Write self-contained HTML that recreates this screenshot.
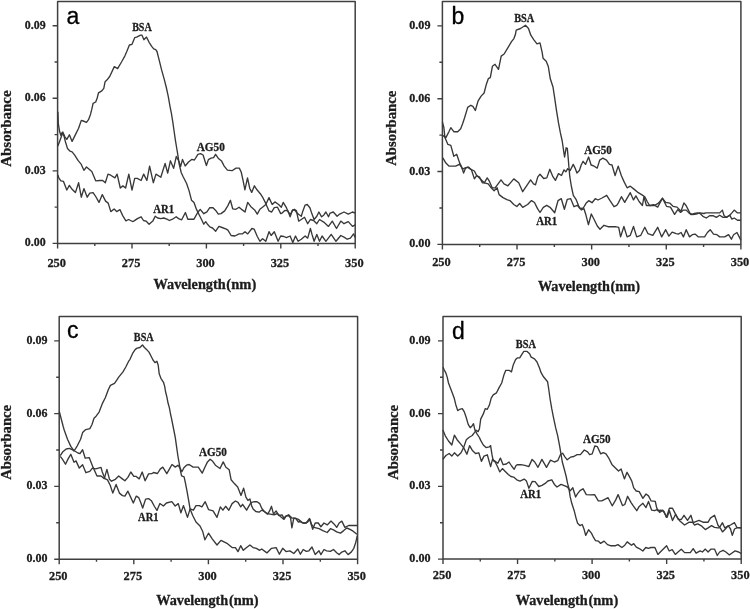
<!DOCTYPE html>
<html><head><meta charset="utf-8"><style>
html,body{margin:0;padding:0;background:#fff;width:750px;height:609px;overflow:hidden}
svg{display:block;will-change:transform}
text{font-family:"Liberation Serif",serif;font-weight:bold;fill:#1c1c1c;stroke:#1c1c1c;stroke-width:0.3px}
.tk{font-size:13.4px}
.ti{font-size:14.5px}
.cl{font-size:12.0px}
.pl{font-family:"Liberation Sans",sans-serif;font-weight:normal;font-size:23px;fill:#000;stroke:#000;stroke-width:0.3px}
.cv{fill:none;stroke:#383838;stroke-width:1.35;stroke-linejoin:round}
</style></head><body>
<svg width="750" height="609" viewBox="0 0 750 609">
<rect x="57.6" y="1.6" width="297.6" height="241.8" fill="none" stroke="#404040" stroke-width="1.5" stroke-linejoin="round"/>
<path d="M57.6 243.4v5 M94.8 243.4v2.5 M132 243.4v5 M169.2 243.4v2.5 M206.4 243.4v5 M243.6 243.4v2.5 M280.8 243.4v5 M318 243.4v2.5 M355.2 243.4v5 M57.6 243.4h-5 M57.6 207.13h-3 M57.6 170.86h-5 M57.6 134.59h-3 M57.6 98.32h-5 M57.6 62.05h-3 M57.6 25.78h-5" stroke="#404040" stroke-width="1.4" fill="none"/>
<text x="24.85" y="246.4" class="tk" textLength="20.81" lengthAdjust="spacingAndGlyphs">0.00</text>
<text x="24.85" y="173.86" class="tk" textLength="20.76" lengthAdjust="spacingAndGlyphs">0.03</text>
<text x="24.85" y="101.32" class="tk" textLength="20.7" lengthAdjust="spacingAndGlyphs">0.06</text>
<text x="24.85" y="28.78" class="tk" textLength="20.78" lengthAdjust="spacingAndGlyphs">0.09</text>
<text x="47.38" y="266.6" class="tk" textLength="18.59" lengthAdjust="spacingAndGlyphs">250</text>
<text x="121.78" y="266.6" class="tk" textLength="18.57" lengthAdjust="spacingAndGlyphs">275</text>
<text x="196.24" y="266.6" class="tk" textLength="18.54" lengthAdjust="spacingAndGlyphs">300</text>
<text x="270.64" y="266.6" class="tk" textLength="18.52" lengthAdjust="spacingAndGlyphs">325</text>
<text x="345.04" y="266.6" class="tk" textLength="18.54" lengthAdjust="spacingAndGlyphs">350</text>
<text x="153.5" y="289.1" class="ti" textLength="72.21" lengthAdjust="spacingAndGlyphs">Wavelength</text>
<text x="226.36" y="289.1" class="ti" textLength="29.88" lengthAdjust="spacingAndGlyphs">(nm)</text>
<text transform="translate(11 166.75) rotate(-90)" x="0" y="0" class="ti" textLength="76.33" lengthAdjust="spacingAndGlyphs">Absorbance</text>
<text x="66.6" y="23.6" class="pl">a</text>
<path d="M57.9 146 60.3 139.4 62.9 132.2 64.9 136.8 66.8 139.4 69.4 134.8 72.1 141.4 74.7 136.1 78.6 128.2 81.3 120.4 83.2 121 86.5 122.3 88.5 119.7 90.5 114.4 91.8 109.2 93.1 103.3 95.7 102 97.2 98 98.5 92.9 101.8 90.9 103.8 88.3 105.1 81.7 107.1 79.8 109.7 76.5 114.3 66.6 117.6 68.6 121.5 62 124.8 56.1 126.8 51.5 129.4 45 132 44.3 134.7 37.7 136.6 37.1 140.6 35.1 141.9 35.1 143.9 39.7 146.5 37.1 149.1 42.3 151.7 46.3 153.7 48.9 155.7 49.6 157 51.5 159 59.4 161.6 69.9 164.2 79.1 166.2 87 168.2 96.2 170.1 106.8 171.4 113.4 172.7 121.3 174 130.5 175.3 139.7 176.6 147.5 177.9 155.4 179.3 164.6 181.2 172.5 182.9 176.2 186.6 183.5 189.1 190.9 191.5 200.2 194 202.6 196.5 209.4 198.9 214.3 201.4 219.2 203.8 224.2 205.7 221.7 207.1 223.7 209.8 226.9 212.5 228 215.7 231.2 218.9 226.4 222.1 227.5 226.3 229.1 227.9 230.1 231.1 235.5 234.9 236 239.1 233.9 242.3 233.9 245 231.7 247.7 233.9 251.9 228.5 254.1 229.1 257.3 236.5 259.9 241.3 262.6 238.7 265.8 241.3 269 231.7 271.1 235.5 274.3 231.7 278.1 241.3 280.7 236 283.9 236.5 286.4 237.6 290.1 236 292.8 242.4 295.5 236 298.1 241.3 301.3 239.2 305.1 236 307.7 238.1 310.4 228.5 312 234.4 314.1 241.3 316.8 234.4 319.5 241.3 322.1 236 325.9 241.3 331.2 234.4 336 241.3 340.8 235.5 344 237.1 347.2 239.2 350.4 238.1 353.6 233.9 355.2 237.6" class="cv"/>
<path d="M57.9 111.8 58.3 123.6 59.6 131.5 60.9 135.5 62.2 132.2 64.2 136.8 65.5 142 67.5 148.6 70.1 151.2 72.1 151.9 74.7 155.2 78 160.4 81.3 164.4 83.9 170.3 86.5 167 91.8 171.6 95.7 180.8 100 180.5 102.7 180.5 105.3 182.7 108 174.1 110.7 175.2 114.9 177.9 117.1 174.1 120.3 188 122.9 185.9 125.6 188 128.8 174.1 132 190.1 134.7 178.4 137.3 178.4 141.1 180.5 143.7 174.1 146.9 180.5 149.6 166.1 153.3 182.7 156 174.1 160.8 177.3 165.1 163.5 167.7 173.1 170.4 160.8 173.6 168.3 176.3 156.5 178.9 161.3 180.6 166.6 182.5 159.4 185.2 166 188.5 162 191.7 159.4 194.4 160 197.9 154.3 200.5 153.6 203.1 155 205.1 161.5 206.4 165.5 208.4 159.6 211 158.2 213.6 157.6 215.6 154.3 218.2 158.2 221.5 160.9 224.2 166.1 227.4 170.1 232 170.7 236 168.1 239.3 168.1 241.2 172 243.2 181.2 244.9 189.8 247.5 177.9 249.8 188.5 251.7 192.4 254.4 185.8 257 189.8 260.3 193.7 262.9 197.7 265.5 202.9 269 210.9 271.7 212 274.3 207.7 277.5 207.2 280.7 213.6 282.1 213.1 284.8 210.4 288 210.9 290.1 216.8 292.3 210.4 294.4 209.3 296.5 210.9 297.6 216.3 298.7 221.1 301.3 219.5 304.5 217.3 307.7 223.7 310.4 219.5 313.6 220.5 316.8 223.7 319.5 219.5 323.7 222.1 328.5 226.4 332.3 221.1 336.5 228.5 340.8 221.1 344 223.7 348.3 221.6 352.5 226.4 355.2 224.8" class="cv"/>
<path d="M57.9 174.9 58.9 178.1 60.9 180.8 63.5 181.4 66.8 190 69.4 185.4 72.1 189.3 75.4 192.6 78.6 182.7 81.3 197.2 83.9 188.6 87.2 197.2 89.8 193.2 93.1 192.6 95.7 196.5 99 202.4 102.3 194.6 105.6 201.1 108.2 203.1 110.8 211.6 114.1 209 116.7 211.6 120 209.7 122.7 215.6 125.9 220.8 128.6 219.5 132.5 221.5 133.7 221.1 137.4 218.6 141.1 216.8 143.5 220.5 146 221.1 149.1 224.2 152.8 221.1 155.2 216.2 157.7 218 160.8 218.6 163.8 218 166.9 219.2 169.4 220.5 172.5 219.2 176.2 216.8 178.6 218.6 181.7 219.8 185.4 212.5 187.8 219.2 190.9 219.2 194 219.2 197.7 212.5 200.2 209.4 203.8 213.7 206.9 211.8 209.8 207.7 213 207.7 215.7 210.4 218.3 214.1 221 213.6 224.7 210.9 227.9 205.6 230.4 200.3 232.7 208.8 235.9 209.3 239.1 207.2 242.3 209.9 245 212 247.7 202.4 250.9 206.7 254.6 209.9 257.3 214.1 259.9 209.3 263.1 206.7 265.8 204.5 269 197.6 272.2 204.5 274.9 201.9 278.6 204.5 281.3 207.2 283.2 202.4 286.4 207.7 288.5 212.5 290.7 214.1 292.8 209.9 294.9 210.4 297.1 213.1 299.2 214.7 301.3 216.3 302.9 210.9 305.1 205.1 307.2 204.5 309.9 207.7 312 214.1 314.1 219.5 316.8 216.3 318.9 212 321.6 216.8 323.7 215.2 325.9 212 328.5 216.8 330.1 213.1 333.3 212 337.1 216.3 339.7 214.1 344 212 348.3 214.1 352.5 212 355.2 213.1" class="cv"/>
<text x="132.13" y="30.8" class="cl" textLength="19.64" lengthAdjust="spacingAndGlyphs">BSA</text>
<text x="196.69" y="150.6" class="cl" textLength="28.14" lengthAdjust="spacingAndGlyphs">AG50</text>
<text x="153.29" y="213.1" class="cl" textLength="20.96" lengthAdjust="spacingAndGlyphs">AR1</text>
<rect x="442.4" y="1.6" width="298.5" height="242.8" fill="none" stroke="#404040" stroke-width="1.5" stroke-linejoin="round"/>
<path d="M442.4 244.4v5 M479.71 244.4v2.5 M517.02 244.4v5 M554.34 244.4v2.5 M591.65 244.4v5 M628.96 244.4v2.5 M666.27 244.4v5 M703.59 244.4v2.5 M740.9 244.4v5 M442.4 244.4h-5 M442.4 207.98h-3 M442.4 171.56h-5 M442.4 135.14h-3 M442.4 98.72h-5 M442.4 62.3h-3 M442.4 25.88h-5" stroke="#404040" stroke-width="1.4" fill="none"/>
<text x="409.24" y="247.4" class="tk" textLength="21.22" lengthAdjust="spacingAndGlyphs">0.00</text>
<text x="409.24" y="174.56" class="tk" textLength="21.17" lengthAdjust="spacingAndGlyphs">0.03</text>
<text x="409.24" y="101.72" class="tk" textLength="21.11" lengthAdjust="spacingAndGlyphs">0.06</text>
<text x="409.24" y="28.88" class="tk" textLength="21.2" lengthAdjust="spacingAndGlyphs">0.09</text>
<text x="432.18" y="266.4" class="tk" textLength="18.59" lengthAdjust="spacingAndGlyphs">250</text>
<text x="506.81" y="266.4" class="tk" textLength="18.57" lengthAdjust="spacingAndGlyphs">275</text>
<text x="581.49" y="266.4" class="tk" textLength="18.54" lengthAdjust="spacingAndGlyphs">300</text>
<text x="656.11" y="266.4" class="tk" textLength="18.52" lengthAdjust="spacingAndGlyphs">325</text>
<text x="730.74" y="266.4" class="tk" textLength="18.54" lengthAdjust="spacingAndGlyphs">350</text>
<text x="537.9" y="290.7" class="ti" textLength="71.91" lengthAdjust="spacingAndGlyphs">Wavelength</text>
<text x="610.47" y="290.7" class="ti" textLength="29.67" lengthAdjust="spacingAndGlyphs">(nm)</text>
<text transform="translate(395.5 165.84) rotate(-90)" x="0" y="0" class="ti" textLength="75.22" lengthAdjust="spacingAndGlyphs">Absorbance</text>
<text x="451.6" y="24.4" class="pl">b</text>
<path d="M442.6 136 443 135.6 445.9 137.6 448.9 131.7 450.8 127.7 453.8 131.7 457.7 131.7 460.7 128.7 462.6 123.8 464.6 117.7 467.7 107.4 470.8 105.3 472.9 106.4 475.3 110.5 478 101.2 481.1 96.1 484.1 93 486.2 84.8 488.3 78.7 490.3 77.6 492.4 66.3 495 64.3 498.5 69.4 501.2 56.1 504.1 54 507.8 47.9 511.5 41.7 513.9 38.6 515.4 34.6 516.2 30.1 520.5 28.5 525.5 25.3 528.5 28.5 530.8 35.2 533.9 39.8 537 43.9 540 42.9 542.1 52.1 543.1 58.3 546.2 61.3 548.3 66.5 550.3 78.8 553 87 554.4 96.2 556.5 110.6 558.5 122.9 560.3 132.4 562.2 141 564 153.3 564.6 157 566.1 147.8 567.3 148.4 568.1 157 568.9 166.8 569.8 176.7 571.4 186.5 573.3 195.3 576 199.3 578.7 206 581.3 210 584 208.7 586 215.3 588.4 224.7 591.3 214 594 219.3 597.3 226 600 229.3 604 225.3 608 226.7 615.3 226.7 618.7 227.3 620.6 236.9 623.9 226.5 627.1 236.9 630.3 235.3 633.5 226.5 636.7 236.9 640.8 235.3 644.8 227.3 648 233.7 652.8 235.3 657.7 227.3 661.7 236.9 665.7 229.7 668.9 236.1 672.1 232.1 676.2 233.7 678.3 234.1 681.1 232.5 683.4 236.9 686.2 229.7 689.5 236.9 692.3 234.7 695.1 234.1 698.4 236.9 704.6 236.9 707.4 232.5 710.2 229.7 713.5 234.1 716.9 234.7 719.7 236.9 724.7 236.9 728.6 234.7 731.4 239.2 733.6 234.7 737 232.5 739.2 236.9 740.9 240.3" class="cv"/>
<path d="M442.4 121.8 443.9 127.7 444.9 137.6 447.9 144.4 450.8 145.4 453.8 156.3 456.7 154.3 459.7 163.1 461.7 167.1 463.6 173 465.6 168.1 468.5 167.1 471.5 170 474.4 178.9 476.4 175.9 479.4 176.9 482.3 182.8 484.3 182.8 487.2 177.9 489.2 180.9 492.2 187.8 495.1 187.8 498.1 183.8 501 179.9 504 183.8 507.9 185.8 513.8 178.9 518.7 182.8 522.7 191.7 526.6 185.8 530.6 179.9 533.5 183.8 535.5 184.8 537.8 176.9 540 174.2 543.7 178.5 546.8 177.9 549.8 169.3 552.9 176.7 555.4 180.4 558.5 173.6 561.5 175.5 564 169.9 565.8 171.8 567.7 168.7 570.2 170.5 573.2 164.4 575.1 168.1 576.9 173 579.4 170.5 581.2 165 583.1 161.3 585.5 164.4 588.6 157 591.1 165 594.2 166.2 597.2 168.1 599.7 160.1 602.8 158.2 606.5 160.1 609.5 164.4 612 165 615.1 175.5 618.2 166.1 621.4 175.8 623.9 181.4 627.1 187.8 630.3 186.2 634.3 189.4 638.3 192.7 642.4 195.1 644.8 196.7 647.2 201.5 649.6 205.5 654.4 205.5 658.5 203.1 662.5 198.3 665.7 202.3 669.7 203.1 673 206.3 677 207.1 681 211.2 683.9 202.9 686.2 205.7 688.4 210.1 690.1 213.5 692.9 214.6 696.2 214.1 699.6 212.9 704 213.5 705.7 212.9 710.7 212.9 719.7 212.9 722.4 210.1 724.1 215.7 726.4 217.4 729.7 215.2 731.9 219.1 734.2 218 737.5 220.2 740.9 220.2" class="cv"/>
<path d="M442.6 158 443 158.2 445.9 163.1 448.9 166.1 455.7 166.1 459.7 164.1 462.6 169.1 464.6 168.1 467.6 167.1 470.5 169.1 474.4 171 476.4 175 480.4 178.9 484.3 182.8 488.2 183.8 491.2 187.8 494.1 190.7 497.1 187.8 499.1 194.6 503 197.6 506.9 199.6 509.9 200.6 513.8 204.5 516.8 206.5 519.7 203.5 522.7 207.4 527.6 204.5 531.5 200.6 534.5 202.5 537.4 208.4 540 212.5 543.3 207.3 546.7 205.3 550 207.3 554.7 212.7 558 200.7 561.3 198.7 564.4 209.3 567.3 199.3 570.7 198.7 574 206.7 577.3 205.3 580 208.7 583.3 208 586 203.3 588.7 200.7 592 202.7 595.3 198.7 598 200 602 198 606.7 195.3 610 200.7 614 206.7 616.7 205.3 618.2 203.1 621.4 196.7 624.7 202.3 630.3 192.7 633.5 199.9 635.9 195.9 639.1 201.5 642.4 205.5 644 196.7 646.4 205.5 650.4 205.5 653.6 204.7 657.7 207.1 662.5 198.3 666.5 206.3 670.5 207.1 674.6 214.4 677.8 209.6 680.6 212.4 683.4 210.1 686.2 210.1 688.4 212.4 691.2 214.6 694.5 213.5 697.3 212.9 700.1 213.5 702.9 216.3 706.3 218 709.6 215.7 713 215.7 716.3 217.4 719.7 215.2 723 217.4 726.4 217.4 729.7 215.2 731.9 212.9 734.2 210.1 737.5 212.9 740.9 212.9" class="cv"/>
<text x="514.23" y="21.9" class="cl" textLength="20.05" lengthAdjust="spacingAndGlyphs">BSA</text>
<text x="584.19" y="154.3" class="cl" textLength="27.63" lengthAdjust="spacingAndGlyphs">AG50</text>
<text x="536.29" y="224.5" class="cl" textLength="20.96" lengthAdjust="spacingAndGlyphs">AR1</text>
<rect x="59.2" y="316.6" width="298.4" height="242.6" fill="none" stroke="#404040" stroke-width="1.5" stroke-linejoin="round"/>
<path d="M59.2 559.2v5 M96.5 559.2v2.5 M133.8 559.2v5 M171.1 559.2v2.5 M208.4 559.2v5 M245.7 559.2v2.5 M283 559.2v5 M320.3 559.2v2.5 M357.6 559.2v5 M59.2 559.2h-5 M59.2 522.81h-3 M59.2 486.42h-5 M59.2 450.03h-3 M59.2 413.64h-5 M59.2 377.25h-3 M59.2 340.86h-5" stroke="#404040" stroke-width="1.4" fill="none"/>
<text x="26.54" y="562.2" class="tk" textLength="21.01" lengthAdjust="spacingAndGlyphs">0.00</text>
<text x="26.54" y="489.42" class="tk" textLength="20.97" lengthAdjust="spacingAndGlyphs">0.03</text>
<text x="26.55" y="416.64" class="tk" textLength="20.9" lengthAdjust="spacingAndGlyphs">0.06</text>
<text x="26.54" y="343.86" class="tk" textLength="20.99" lengthAdjust="spacingAndGlyphs">0.09</text>
<text x="48.98" y="579.6" class="tk" textLength="18.59" lengthAdjust="spacingAndGlyphs">250</text>
<text x="123.58" y="579.6" class="tk" textLength="18.57" lengthAdjust="spacingAndGlyphs">275</text>
<text x="198.24" y="579.6" class="tk" textLength="18.54" lengthAdjust="spacingAndGlyphs">300</text>
<text x="272.84" y="579.6" class="tk" textLength="18.52" lengthAdjust="spacingAndGlyphs">325</text>
<text x="347.44" y="579.6" class="tk" textLength="18.54" lengthAdjust="spacingAndGlyphs">350</text>
<text x="156.2" y="605" class="ti" textLength="72.11" lengthAdjust="spacingAndGlyphs">Wavelength</text>
<text x="228.97" y="605" class="ti" textLength="29.67" lengthAdjust="spacingAndGlyphs">(nm)</text>
<text transform="translate(11.3 479.84) rotate(-90)" x="0" y="0" class="ti" textLength="74.92" lengthAdjust="spacingAndGlyphs">Absorbance</text>
<text x="66.9" y="338.2" class="pl">c</text>
<path d="M59.3 411.5 63.2 426.5 64.2 430 67.5 439.2 70.8 446.4 74 451 77.3 445.8 80.6 439.2 82.6 432.6 85.2 430 85.8 429.6 89.9 428.6 92 424.5 94 418.3 96.1 416.2 99.1 412.1 102.2 403.9 105.3 397.8 108.4 389.5 110.4 385.4 114.5 383.4 116.6 380.3 118.7 377.2 122.8 372.1 125.8 367 128.9 360.8 130 359.3 132.6 353.4 135.3 349.4 137.2 348.1 139.9 347.5 142.5 344.9 144.4 347.5 147.1 350.1 149 352.1 151 356 153 360 155 362.6 156.9 361.3 158.2 365.2 159.2 373.8 160.9 378.3 163.5 382.3 164.8 386.9 165.5 391.5 166.8 396.7 168.1 403.3 169.4 407.9 170.7 415 171.4 417.9 172.7 424.5 174 431 175.3 437.6 176.6 446.8 177.9 456 179.3 463.9 180.6 471.7 181.6 475.9 184.1 476.9 185.6 483.8 187.1 491.7 188.5 499.6 190.1 508.9 192.7 515.5 196 522 200 526 202.6 531.2 204.9 539.8 208.5 533.2 212.4 539.1 217 545 221 540.4 227.5 543.7 232.1 547.6 235.4 547.6 238 551.6 240.7 545.7 243.3 550.3 246.6 547.6 249.9 545 253.1 547.6 256.4 548.3 259.7 550.3 261.7 549 266.9 552.9 271.5 548.3 276.1 547.6 279.4 554.2 282.7 548.3 286 551.6 289.9 550.9 293.8 553.5 297.8 549 300.4 554.2 303.2 549.5 306.3 551.4 308.9 550.8 312 547 315.2 554.6 319 550.8 320.9 554.6 324 549.5 326.6 550.8 330.4 551.4 333.5 549.5 336.7 552.7 339.2 554.6 341.8 552.1 344.9 550.8 348.1 554.6 351.2 552.1 353.8 548.3 355.7 542.6 357.3 535.6" class="cv"/>
<path d="M60.3 455.6 62.9 451.7 66.2 449 69.4 448.4 72.1 449.7 74.7 451 78 453 80 453.6 82.6 449.7 85.2 458.2 89.2 457.6 93.1 467.4 97 476 101 476 104.3 478.6 106.9 469.4 109.5 479.3 111.5 481.2 115.4 479.3 118.7 476 122 478.6 124.9 480.8 127.9 477.4 130.8 472 133.8 476.4 135.9 476.3 139.2 478.9 142.2 472 145.1 480.8 148.6 473.9 151.7 473.7 153.5 472.5 157.5 473.5 160.2 469.1 162.8 467.1 166.8 473.7 169.4 469.1 172 464.5 175.3 467.1 177.9 465.2 179.9 467.8 181.9 471.7 183.9 467.8 186.5 465.2 189.1 464.5 193.1 467.1 198.3 467.1 202.2 473.1 204.9 467.2 207.5 461.9 210.1 459.3 212.7 461.3 215.4 465.2 220 468.5 223.2 461.9 225.9 467.2 229.2 469.8 231.1 479.7 234.4 483.6 237.7 486.9 241 495.4 243.6 488.2 245.9 497.1 247.9 500.4 249.9 499 251.8 506.3 253.1 508.9 255.8 511.5 259 512.2 261.7 510.2 264.3 511.5 267.6 514.1 269.6 510.9 271.5 506.3 273.5 514.1 276.1 510.9 278.7 515.5 282 514.8 284 518.1 286 516.1 288.6 515.5 290.6 518.1 291.9 527.9 293.8 518.1 295.8 518.7 298.4 522 300 521.7 302.5 523 306.3 523 309.5 518.5 310.8 523 312.7 529.3 315.2 523 318.3 523 320.9 526.8 324 523 327.2 524.9 331 521.1 334.2 524.2 336.7 527.4 339.2 523 341.8 521.1 344.9 527.4 348.7 525.5 357.3 525.5" class="cv"/>
<path d="M60.3 456.3 62.2 458.9 65.5 464.2 68.1 458.9 70.8 454.3 74 462.2 76 460.9 79.3 468.1 82.6 464.8 85.9 472.7 89.8 471.4 92.4 468.1 95.7 468.8 101 467.4 102.3 472 104.9 478.6 107.5 479.9 110.2 485.2 112.8 493.1 116.1 484.5 119.4 493.1 122.5 495.6 124.9 496.1 127.9 491.2 130.4 496.6 133.3 503 136.3 496.1 138.7 497.6 140.7 502.5 142.7 508 145.6 499.1 148.6 498.6 151.6 501.1 154.5 506.5 157 510.4 159.9 503.5 163.4 506 166.4 503 171.8 501.6 175.2 506 178.3 503.6 180.9 512.8 183.5 505.6 187.5 517.4 190.1 508.9 193.4 510.2 196 505.6 199.3 505.6 201.9 506.9 205.2 501.7 208.5 509.6 213.1 510.9 217 517.4 220.3 506.9 222.9 510.2 225.6 506.3 228.8 510.2 232.1 503.6 235.4 501 238 502.3 240.7 506.9 242.6 504.3 246.6 510.2 249.9 504.3 251.8 502.3 254.4 501.7 257.1 501.7 259.7 503.6 261.7 508.2 264.3 511.5 266.9 513.5 270.2 514.1 274.1 514.8 277.4 513.5 280.7 516.8 284 519.4 286 516.1 288.6 514.8 291.9 518.1 295.2 518.1 298.4 519.4 301.7 522 304.4 523.3 307.6 522 310 519.4 311.4 524.2 313.9 527.4 319 528.7 322.8 530.6 327.2 532.5 330.4 528.7 333.5 529.9 336.7 531.8 340.5 533.1 343.7 530.6 346.8 528 350 529.3 353.1 531.2 356.9 534.3" class="cv"/>
<text x="133.83" y="340.5" class="cl" textLength="19.84" lengthAdjust="spacingAndGlyphs">BSA</text>
<text x="199.09" y="456" class="cl" textLength="27.83" lengthAdjust="spacingAndGlyphs">AG50</text>
<text x="138.1" y="520.8" class="cl" textLength="20.45" lengthAdjust="spacingAndGlyphs">AR1</text>
<rect x="443" y="316.6" width="298.2" height="242.5" fill="none" stroke="#404040" stroke-width="1.5" stroke-linejoin="round"/>
<path d="M443 559.1v5 M480.27 559.1v2.5 M517.55 559.1v5 M554.83 559.1v2.5 M592.1 559.1v5 M629.38 559.1v2.5 M666.65 559.1v5 M703.93 559.1v2.5 M741.2 559.1v5 M443 559.1h-5 M443 522.73h-3 M443 486.35h-5 M443 449.98h-3 M443 413.6h-5 M443 377.23h-3 M443 340.85h-5" stroke="#404040" stroke-width="1.4" fill="none"/>
<text x="409.34" y="562.1" class="tk" textLength="21.22" lengthAdjust="spacingAndGlyphs">0.00</text>
<text x="409.34" y="489.35" class="tk" textLength="21.17" lengthAdjust="spacingAndGlyphs">0.03</text>
<text x="409.34" y="416.6" class="tk" textLength="21.11" lengthAdjust="spacingAndGlyphs">0.06</text>
<text x="409.34" y="343.85" class="tk" textLength="21.2" lengthAdjust="spacingAndGlyphs">0.09</text>
<text x="432.78" y="579.4" class="tk" textLength="18.59" lengthAdjust="spacingAndGlyphs">250</text>
<text x="507.33" y="579.4" class="tk" textLength="18.57" lengthAdjust="spacingAndGlyphs">275</text>
<text x="581.94" y="579.4" class="tk" textLength="18.54" lengthAdjust="spacingAndGlyphs">300</text>
<text x="656.49" y="579.4" class="tk" textLength="18.52" lengthAdjust="spacingAndGlyphs">325</text>
<text x="731.04" y="579.4" class="tk" textLength="18.54" lengthAdjust="spacingAndGlyphs">350</text>
<text x="515.7" y="604.8" class="ti" textLength="72.11" lengthAdjust="spacingAndGlyphs">Wavelength</text>
<text x="588.46" y="604.8" class="ti" textLength="29.77" lengthAdjust="spacingAndGlyphs">(nm)</text>
<text transform="translate(398.2 479.84) rotate(-90)" x="0" y="0" class="ti" textLength="74.92" lengthAdjust="spacingAndGlyphs">Absorbance</text>
<text x="452.1" y="338.8" class="pl">d</text>
<path d="M443.1 367.2 443.9 369.2 445.9 373.1 447.2 377.1 448.5 383 450.5 388.2 452.5 393.5 454.4 398.8 455.8 404.7 457.7 410.6 459.7 409.3 462.3 408.6 464.3 411.9 466.3 417.8 468.2 424.4 470.2 427.7 472.2 425.7 473.5 423.7 474.8 429.6 476.8 433.6 479.4 437.5 480.7 440.4 483.3 445 486 447.6 489.3 446.9 490.6 445.6 491.9 454.2 493.2 460.7 495.2 462 497.8 467.3 499.8 471.9 502.4 468.6 505 471.2 508.3 474.5 510.9 476.5 513.6 477.1 516.8 479.8 520 481.1 524.2 479.1 526.5 481.1 528.9 488.3 532.3 481.4 535.1 481.6 538.8 486.5 542 485.3 545.2 483.4 547.8 481 551.8 479.8 554.4 484.4 557 487 561 484.4 564.3 485.7 567.5 487 570.2 490.9 572.8 487.7 575.6 497 577.6 493.6 580 490.6 583 488.7 586.3 494.6 590.2 494.8 594.6 494.6 598.3 500.9 601.8 500.8 608.1 497.7 612.2 505.8 615.6 500.1 618.1 494.6 622.5 505.6 624.8 504.5 627.6 496.3 631.1 502.6 633.1 505.7 636.8 510.7 639.2 506.4 642.9 503.3 646 507.6 648.5 501.4 651.6 510.1 654.6 510.7 657.7 509.4 659.6 512.5 662.7 510.1 667 517.4 669.4 510.7 672.5 520.5 675.6 514.4 679.3 520.5 684.6 525 689.2 522.2 692.6 522.2 694.4 525 697.8 523.9 701.8 526.2 705.3 529.6 708.1 527.9 711.6 525.6 714.5 527.3 717.9 527.9 720.2 527.9 722.5 531.9 725.4 529 728.2 525.6 730.5 529 732.3 535.4 734.5 529 736.8 527.9 741.4 527.9" class="cv"/>
<path d="M442.9 429.9 445.3 435.8 448.5 441 451.8 445 454.4 435.1 457.1 439.7 460.4 443.6 463.6 447.6 466.9 454.2 469.6 445.6 472.2 450.2 475.5 453.5 478.8 452.8 481.4 461.4 484 456.1 487.3 454.8 490.6 466.6 492.5 459.4 494.5 460.7 497.8 463.3 500.4 458.1 503.1 464.7 506.3 464 509 462 511.6 466 514.2 469.3 516.2 465.3 517.6 464.7 520.9 464.7 524.9 465.3 528.8 466.6 532.1 459.4 534.7 462 538 467.3 541.9 459.4 546.5 467.3 550.5 460.1 554.4 462 557.7 460.7 560.5 454.5 562.6 453.2 564.9 456.8 567.2 459.8 570.5 457.2 573.8 456.5 577.1 454.6 580.4 454.6 584.3 450 587.6 451.9 589.6 454.6 592.2 453.9 594.8 446 597.4 446.7 600.7 453.9 603.3 452.6 606 453.9 608.6 457.8 611.9 464.4 615.2 467.7 618.5 471 621.1 469 624.4 478.9 627 472.3 629.6 476.9 631.8 481.1 633.7 487.9 636.2 491 639.2 491.6 642.9 498.3 646 494 648.5 495.9 651 500.8 655.3 501.4 656.5 507 657.7 510.7 660.8 510.1 663.9 511.3 666.4 517.4 669.4 508.2 672.5 508.2 675 513.1 678.1 519.3 681.3 519.5 684 515.3 687.5 520.4 690.9 515.3 693.2 522.7 699 520.4 703 522.2 708.1 522.2 710.4 518.1 714.5 515.3 716.2 519.9 717.9 525 719.6 527.3 722.5 522.7 724.8 527.9 727.1 526.7 730.5 525 734.5 522.7 736.8 527.3 741.4 527.9" class="cv"/>
<path d="M442.9 459.4 445.9 455.5 449.2 453.5 451.8 456.1 454.4 452.8 457.7 456.1 461 452.8 463.6 447.6 466.3 439.7 468.9 437.5 472.2 435.5 474.2 432.9 476.1 430.3 478.1 431.6 479.4 429 480.7 419.1 483.3 413.9 485.3 408.6 487.3 409.3 489.3 405.3 491.2 398.1 493.2 394.8 496.5 392.8 499.1 387.6 501.7 383 502.9 378.6 504.1 374.4 505.8 370.3 509 370.3 511.5 371.9 513.1 365.3 515.6 359.6 517.3 357.9 519.7 357.9 522.2 353.8 523.8 351.4 527.1 351.4 529.6 353.8 531.2 357.1 534.5 358.8 537 362 539.4 367.8 541.1 372.7 543.5 376.8 547.6 381.8 548.5 387.5 550.1 399 551.8 408.9 553.4 417.1 555.7 427.9 557.7 435.8 559.7 446.3 561 454.2 562.3 462 564.3 469.3 566.2 476.5 567.5 483.1 568.9 488.3 570.2 496.9 571.9 503.8 574.2 510.7 575.9 517.6 577.6 523.3 579.9 525.6 582.2 524.5 584 529.1 585.7 535.4 588.6 529.7 591.4 533.1 593.7 537.7 595.5 540.6 598.3 541.1 600.6 543.4 604.1 541.1 607.5 544.6 610.4 545.7 615.6 545.7 617.9 544.6 621.9 547.5 624.8 545.2 627.2 541.9 631.5 545.3 633.7 543.6 636.3 547.1 639.7 548.8 642.8 551 645.8 547.5 648.4 548.4 651 547.5 654.9 547.5 657.9 554.4 662.3 550.1 666.6 545.8 669.2 551 672.2 549.7 675.3 554.4 678.3 551.8 681.3 549.2 684.6 552.6 690.3 552.6 693.2 548.6 696.1 553.2 700.1 550.9 702.4 552 705.3 549.1 708.1 552 711 549.1 714.5 549.1 717.3 555.5 719.6 552 723.1 550.3 725.9 552 729.4 554.9 731.7 553.2 735.1 550.9 738.6 552 741.4 553.7" class="cv"/>
<text x="515.73" y="348" class="cl" textLength="20.15" lengthAdjust="spacingAndGlyphs">BSA</text>
<text x="582.89" y="442.6" class="cl" textLength="27.73" lengthAdjust="spacingAndGlyphs">AG50</text>
<text x="520.19" y="498.4" class="cl" textLength="20.96" lengthAdjust="spacingAndGlyphs">AR1</text>
</svg>
</body></html>
